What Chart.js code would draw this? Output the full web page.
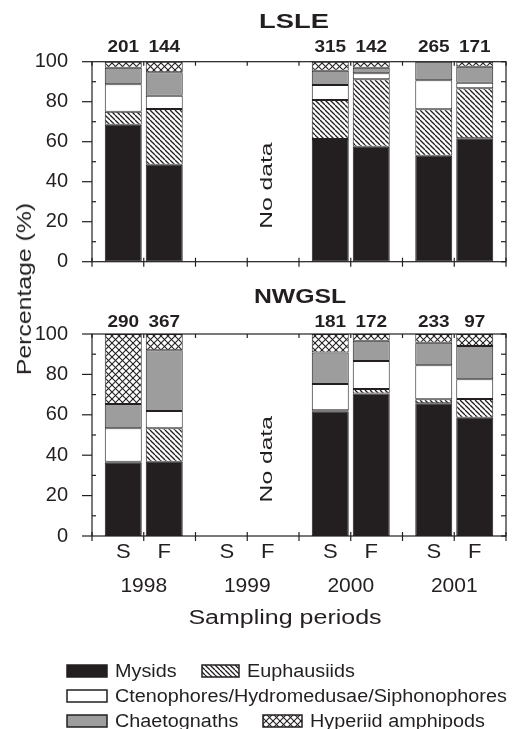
<!DOCTYPE html>
<html><head><meta charset="utf-8">
<script src="https://cdn.jsdelivr.net/npm/chart.js@4.4.1/dist/chart.umd.min.js"></script>
<style>
html,body{margin:0;padding:0;background:#fff;}
#wrap{position:relative;width:512px;height:729px;overflow:hidden;background:#fff;}
#c1{position:absolute;left:0;top:0;}
#c2{position:absolute;left:0;top:280px;}
#ylab{position:absolute;left:24px;top:289px;transform:translate(-50%,-50%) rotate(-90deg) scaleX(1.24);font:20px "Liberation Sans",Arial,sans-serif;color:#231f20;white-space:nowrap;line-height:1;}
</style></head><body>
<div id="wrap">
<canvas id="c1" width="512" height="290" style="width:512px;height:290px"></canvas>
<canvas id="c2" width="512" height="449" style="width:512px;height:449px"></canvas>
<div id="ylab">Percentage (%)</div>
</div>
<script>
// ---------- data ----------
const years = ['1998', '1999', '2000', '2001'];
const seasonLabels = ['S', 'F'];
const species = ['Mysids', 'Euphausiids', 'Ctenophores/Hydromedusae/Siphonophores', 'Chaetognaths', 'Hyperiid amphipods'];
const yTicks = [0, 20, 40, 60, 80, 100];

// LSLE (percent of diet), S = summer, F = fall; 1999 = no data
const lsleMysidsS = [68.5, null, 61.3, 53.0];
const lsleMysidsF = [48.5, null, 57.5, 61.7];
const lsleEuphS   = [6.5, null, 19.5, 23.2];
const lsleEuphF   = [27.8, null, 33.7, 25.0];
const lsleCtenoS  = [13.7, null, 7.5, 14.5];
const lsleCtenoF  = [6.7, null, 3.0, 2.8];
const lsleChaetoS = [8.3, null, 7.2, 9.3];
const lsleChaetoF = [11.7, null, 2.8, 8.0];
const lsleHypS    = [3.0, null, 4.5, 0];
const lsleHypF    = [5.3, null, 3.0, 2.5];
const lsleCountS  = [201, null, 315, 265];
const lsleCountF  = [144, null, 142, 171];

// NWGSL
const nwMysidsS = [36.3, null, 61.7, 65.7];
const nwMysidsF = [36.8, null, 70.6, 58.6];
const nwEuphS   = [0.5, null, 0.5, 2.0];
const nwEuphF   = [16.5, null, 2.2, 9.2];
const nwCtenoS  = [16.5, null, 13.0, 16.8];
const nwCtenoF  = [8.6, null, 13.8, 9.8];
const nwChaetoS = [12.0, null, 15.6, 11.2];
const nwChaetoF = [30.1, null, 10.1, 16.4];
const nwHypS    = [34.7, null, 9.2, 4.3];
const nwHypF    = [8.0, null, 3.3, 6.0];
const nwCountS  = [290, null, 181, 233];
const nwCountF  = [367, null, 172, 97];

// ---------- styling ----------
const INK = '#231f20';
const GRAY = '#9d9d9d';
const FAM = '"Liberation Sans", Arial, Helvetica, sans-serif';
Chart.defaults.font.family = FAM;
Chart.defaults.color = INK;

function makeHatch(ctx) {
  const s = 5, t = document.createElement('canvas');
  t.width = s; t.height = s;
  const g = t.getContext('2d');
  g.fillStyle = '#fff'; g.fillRect(0, 0, s, s);
  g.strokeStyle = INK; g.lineWidth = 1.3;
  for (const x0 of [-s, 0, s]) { g.beginPath(); g.moveTo(x0, 0); g.lineTo(x0 + s, s); g.stroke(); }
  return ctx.createPattern(t, 'repeat');
}
function makeCross(ctx) {
  const s = 7, t = document.createElement('canvas');
  t.width = s; t.height = s;
  const g = t.getContext('2d');
  g.fillStyle = '#fff'; g.fillRect(0, 0, s, s);
  g.strokeStyle = INK; g.lineWidth = 1.1;
  for (const x0 of [-s, 0, s]) {
    g.beginPath(); g.moveTo(x0, 0); g.lineTo(x0 + s, s); g.stroke();
    g.beginPath(); g.moveTo(x0, s); g.lineTo(x0 + s, 0); g.stroke();
  }
  return ctx.createPattern(t, 'repeat');
}

function txt(ctx, s, x, y, font, sx, align, rot, base) {
  ctx.save();
  ctx.translate(x, y);
  if (rot) ctx.rotate(rot);
  ctx.scale(sx, 1);
  ctx.font = font;
  ctx.fillStyle = INK;
  ctx.textAlign = align || 'center';
  ctx.textBaseline = base || 'alphabetic';
  ctx.fillText(s, 0, 0);
  ctx.restore();
}
function seg(ctx, x1, y1, x2, y2) { ctx.beginPath(); ctx.moveTo(x1, y1); ctx.lineTo(x2, y2); ctx.stroke(); }

function makePanel(canvas, cfg) {
  const ctx = canvas.getContext('2d');
  const fills = [INK, makeHatch(ctx), '#ffffff', GRAY, makeCross(ctx)];
  const datasets = [];
  for (let i = 0; i < 5; i++) {
    [['S', cfg.S[i]], ['F', cfg.F[i]]].forEach(([st, arr]) => {
      datasets.push({
        label: species[i] + ' ' + st, data: arr, stack: st,
        backgroundColor: fills[i], borderColor: INK, borderWidth: 1, borderSkipped: false,
        categoryPercentage: 0.792, barPercentage: 0.902
      });
    });
  }

  const decor = {
    id: 'decor',
    afterDatasetsDraw(chart) {
      const c = chart.ctx;
      const {left: L, right: R, top: T, bottom: B} = chart.chartArea;
      const xs = chart.scales.x, ys = chart.scales.y;
      c.save();
      c.strokeStyle = INK; c.lineWidth = 1.2;
      c.strokeRect(L, T, R - L, B - T);
      for (let v = 0; v <= 100; v += 10) {
        const y = ys.getPixelForValue(v);
        if (v % 20 === 0) seg(c, L - 10, y, L, y); else seg(c, L, y, L + 4, y);
        seg(c, R - 5, y, R, y);
      }
      const c0 = xs.getPixelForValue(0), w = xs.getPixelForValue(1) - c0;
      for (let k = 0; k <= 8; k++) {
        const x = c0 - w / 2 + k * w / 2;
        seg(c, x, B - 4, x, B + 5);
        seg(c, x, T, x, T + 4);
      }
      c.restore();

      // bar positions of the S and F stacks
      const dS = chart.getDatasetMeta(0).data[0].x - c0;
      const dF = chart.getDatasetMeta(1).data[0].x - c0;
      years.forEach((yr, i) => {
        const cx = xs.getPixelForValue(i);
        if (cfg.cS[i] != null) txt(c, String(cfg.cS[i]), cx + dS, T - cfg.countGap, 'bold 16.5px ' + FAM, 1.15);
        if (cfg.cF[i] != null) txt(c, String(cfg.cF[i]), cx + dF, T - cfg.countGap, 'bold 16.5px ' + FAM, 1.15);
        if (cfg.showX) {
          txt(c, seasonLabels[0], cx + dS, B + 22, '21px ' + FAM, 1.05);
          txt(c, seasonLabels[1], cx + dF, B + 22, '21px ' + FAM, 1.05);
        }
      });
      // No data (1999)
      txt(c, 'No data', xs.getPixelForValue(1) + dF, ys.getPixelForValue(38), '17px ' + FAM, 1.45, 'center', -Math.PI / 2, 'middle');
      // Panel title
      txt(c, cfg.title, cfg.titleX, cfg.titleY, 'bold 21px ' + FAM, cfg.titleSx);

      if (cfg.showX) {
        txt(c, 'Sampling periods', 285, 344, '20px ' + FAM, 1.25);
        // legend
        const lf = '18px ' + FAM, lsx = 1.1;
        const sw = (x, y, w2, fill) => {
          c.save(); c.fillStyle = fill; c.fillRect(x, y, w2, 12);
          c.strokeStyle = INK; c.lineWidth = 1.5; c.strokeRect(x, y, w2, 12); c.restore();
        };
        sw(67, 385, 40, fills[0]); txt(c, species[0], 115, 397, lf, lsx, 'left');
        sw(202, 385, 37, fills[1]); txt(c, species[1], 247, 397, lf, lsx, 'left');
        sw(67, 410, 40, fills[2]); txt(c, species[2], 115, 422, lf, lsx, 'left');
        sw(67, 435, 40, fills[3]); txt(c, species[3], 115, 447, lf, lsx, 'left');
        sw(263, 435, 39, fills[4]); txt(c, species[4], 310, 447, lf, lsx, 'left');
      }
    }
  };

  return new Chart(ctx, {
    type: 'bar',
    data: { labels: years, datasets },
    options: {
      responsive: false, animation: false, devicePixelRatio: 1,
      layout: { padding: cfg.padding },
      plugins: { legend: { display: false }, tooltip: { enabled: false }, title: { display: false } },
      scales: {
        x: {
          stacked: true, display: true,
          grid: { display: false }, border: { display: false },
          ticks: { display: cfg.showX, font: { size: 21 }, padding: 30, color: INK, maxRotation: 0 },
          afterFit: s => { s.height = cfg.showX ? 60 : 0; }
        },
        y: {
          stacked: true, min: 0, max: 100,
          grid: { display: false }, border: { display: false },
          afterBuildTicks: s => { s.ticks = yTicks.map(v => ({ value: v })); },
          ticks: { font: { size: 20 }, padding: 16, color: INK },
          afterFit: s => { s.width = 92; }
        }
      }
    },
    plugins: [decor]
  });
}

makePanel(document.getElementById('c1'), {
  S: [lsleMysidsS, lsleEuphS, lsleCtenoS, lsleChaetoS, lsleHypS],
  F: [lsleMysidsF, lsleEuphF, lsleCtenoF, lsleChaetoF, lsleHypF],
  cS: lsleCountS, cF: lsleCountF,
  title: 'LSLE', titleX: 294, titleY: 28, titleSx: 1.3, countGap: 9.5,
  showX: false,
  padding: { left: 0, right: 6, top: 61.7, bottom: 28.3 }
});
makePanel(document.getElementById('c2'), {
  S: [nwMysidsS, nwEuphS, nwCtenoS, nwChaetoS, nwHypS],
  F: [nwMysidsF, nwEuphF, nwCtenoF, nwChaetoF, nwHypF],
  cS: nwCountS, cF: nwCountF,
  title: 'NWGSL', titleX: 300, titleY: 23, titleSx: 1.18, countGap: 7,
  showX: true,
  padding: { left: 0, right: 6, top: 54, bottom: 133 }
});
</script>
</body></html>
